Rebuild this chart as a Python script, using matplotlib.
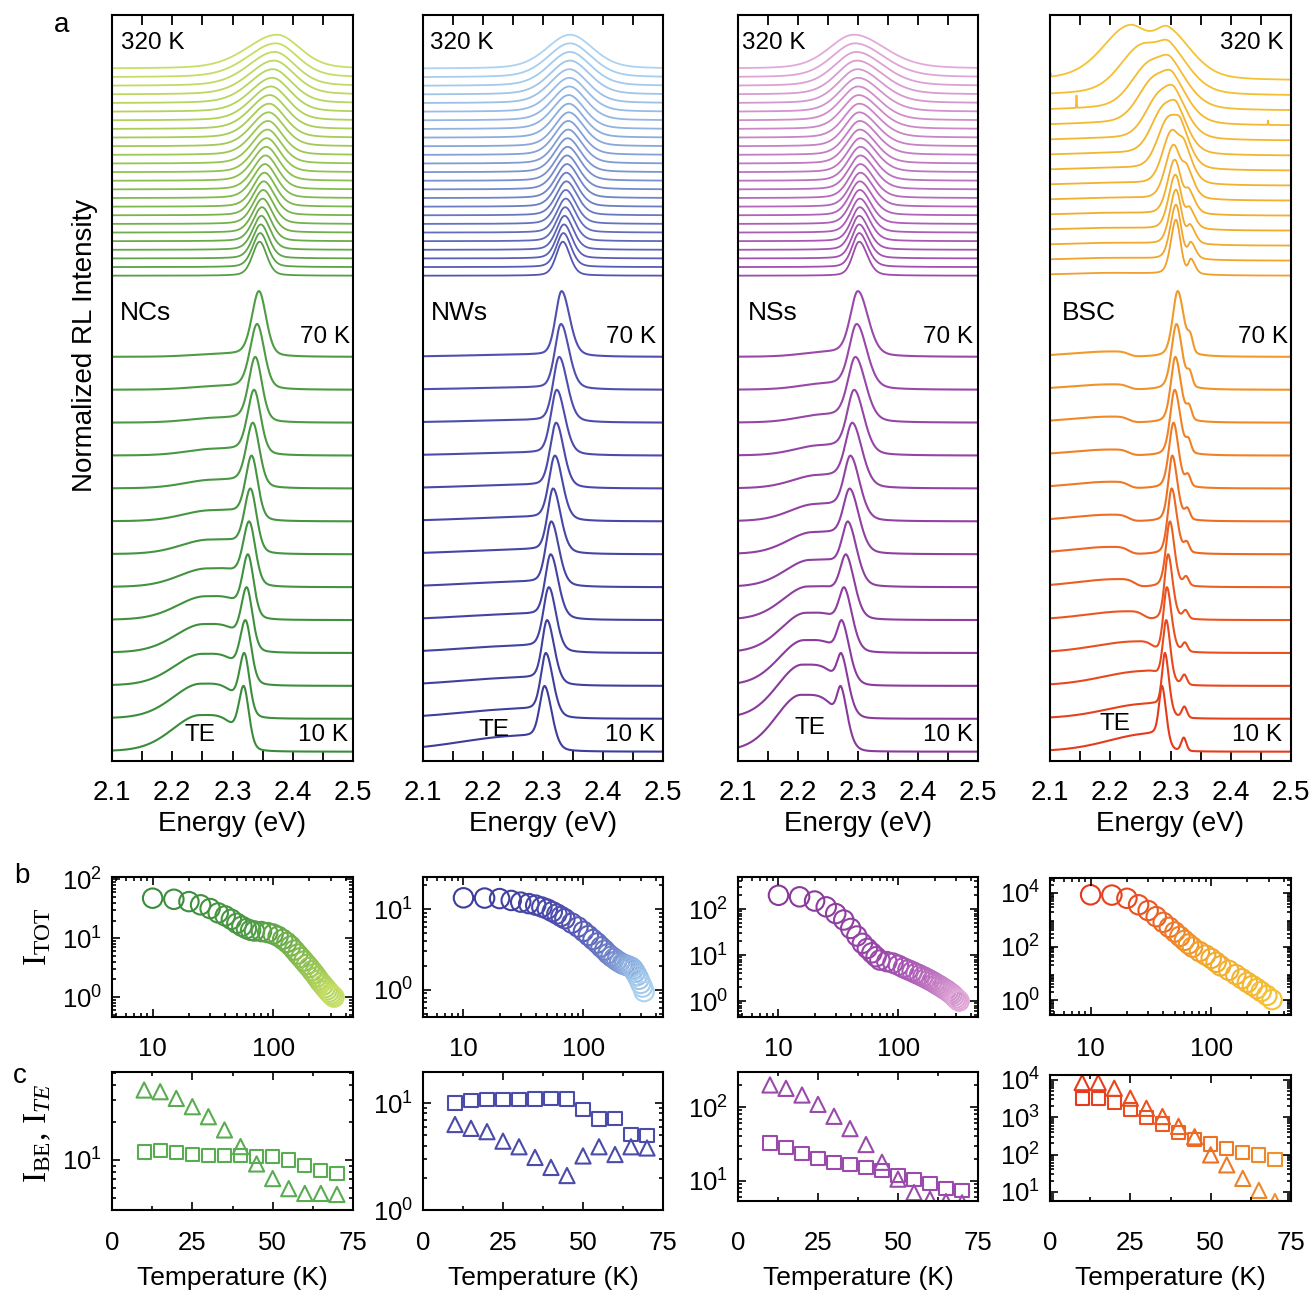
import numpy as np
import matplotlib.pyplot as plt
from matplotlib.colors import LinearSegmentedColormap
from matplotlib.ticker import MultipleLocator, LogLocator, FixedLocator, FuncFormatter, NullFormatter

plt.rcParams['font.family'] = ['Liberation Sans', 'DejaVu Sans']
plt.rcParams['mathtext.fontset'] = 'custom'
plt.rcParams['mathtext.rm'] = 'Liberation Serif'
plt.rcParams['mathtext.it'] = 'Liberation Serif:italic'
plt.rcParams['mathtext.sf'] = 'Liberation Sans'

# ---------------- temperatures ----------------
T_low = [10, 15, 20, 25, 30, 35, 40, 45, 50, 55, 60, 65, 70]
T_high = [80, 90, 100, 110, 120, 130, 140, 150, 160, 170, 180, 190, 200,
          210, 220, 230, 240, 250, 260, 270, 280, 290, 300, 310, 320]
T_high_bsc = [80, 90, 100, 110, 120, 140, 160, 180, 200, 220, 240, 260, 290, 320]

# ---------------- spectra parameters ----------------
# NCs
ncs_be_pos = [2.319, 2.320, 2.322, 2.324, 2.326, 2.328, 2.330, 2.332, 2.334, 2.336, 2.338, 2.341, 2.344]
ncs_be_w = [0.010, 0.010, 0.011, 0.011, 0.011, 0.012, 0.012, 0.012, 0.013, 0.013, 0.013, 0.014, 0.014]
ncs_te_amp = [0.63, 0.60, 0.54, 0.48, 0.39, 0.30, 0.23, 0.17, 0.13, 0.10, 0.07, 0.05, 0.04]
ncs_te_pos = [2.246, 2.247, 2.249, 2.251, 2.254, 2.257, 2.260, 2.263, 2.266, 2.270, 2.273, 2.276, 2.280]
ncs_pk_pos = [2.345, 2.346, 2.347, 2.348, 2.349, 2.350, 2.351, 2.352, 2.353, 2.354, 2.355, 2.356, 2.357,
              2.358, 2.359, 2.360, 2.361, 2.362, 2.364, 2.366, 2.367, 2.369, 2.370, 2.372, 2.374]
ncs_pk_wl = [0.014, 0.015, 0.016, 0.017, 0.018, 0.019, 0.020, 0.021, 0.022, 0.024, 0.025, 0.027, 0.028,
             0.030, 0.032, 0.034, 0.036, 0.038, 0.040, 0.043, 0.046, 0.049, 0.052, 0.056, 0.060]
ncs_pk_wr = [0.014, 0.015, 0.016, 0.017, 0.018, 0.019, 0.020, 0.021, 0.022, 0.023, 0.024, 0.025, 0.026,
             0.027, 0.028, 0.030, 0.031, 0.033, 0.034, 0.036, 0.038, 0.040, 0.041, 0.043, 0.045]
# NWs
nws_be_pos = [2.303, 2.305, 2.307, 2.310, 2.313, 2.314, 2.317, 2.320, 2.322, 2.323, 2.327, 2.330, 2.331]
nws_be_wl = [0.010, 0.010, 0.010, 0.011, 0.011, 0.011, 0.011, 0.012, 0.012, 0.012, 0.012, 0.012, 0.012]
nws_be_wr = [0.014, 0.014, 0.014, 0.014, 0.015, 0.015, 0.015, 0.015, 0.015, 0.016, 0.016, 0.016, 0.016]
nws_te_amp = [0.28, 0.16, 0.13, 0.11, 0.09, 0.08, 0.07, 0.06, 0.05, 0.04, 0.035, 0.03, 0.03]
nws_te_pos = [2.26, 2.26, 2.26, 2.26, 2.26, 2.26, 2.26, 2.26, 2.26, 2.26, 2.26, 2.26, 2.26]
nws_pk_pos = [2.333, 2.334, 2.335, 2.336, 2.337, 2.338, 2.338, 2.339, 2.339, 2.340, 2.340, 2.341, 2.341,
              2.342, 2.342, 2.343, 2.343, 2.343, 2.344, 2.344, 2.344, 2.345, 2.345, 2.345, 2.345]
nws_pk_wl = [0.013, 0.014, 0.015, 0.016, 0.017, 0.018, 0.019, 0.020, 0.021, 0.022, 0.023, 0.024, 0.025,
             0.026, 0.027, 0.028, 0.030, 0.032, 0.034, 0.036, 0.038, 0.040, 0.042, 0.044, 0.046]
nws_pk_wr = [0.014, 0.015, 0.016, 0.017, 0.018, 0.019, 0.020, 0.021, 0.022, 0.023, 0.024, 0.025, 0.026,
             0.027, 0.028, 0.029, 0.030, 0.031, 0.033, 0.035, 0.037, 0.039, 0.041, 0.043, 0.045]
# NSs
nss_be_pos = [2.272, 2.273, 2.274, 2.278, 2.281, 2.284, 2.287, 2.288, 2.291, 2.294, 2.296, 2.298, 2.300]
nss_be_wl = [0.008, 0.009, 0.010, 0.011, 0.012, 0.012, 0.013, 0.013, 0.014, 0.014, 0.015, 0.015, 0.015]
nss_be_wr = [0.012, 0.013, 0.014, 0.015, 0.016, 0.017, 0.018, 0.018, 0.019, 0.019, 0.020, 0.020, 0.020]
nss_te_amp = [1.45, 1.38, 1.10, 0.88, 0.68, 0.52, 0.40, 0.30, 0.22, 0.16, 0.12, 0.09, 0.07]
nss_te_pos = [2.205, 2.207, 2.210, 2.213, 2.216, 2.220, 2.224, 2.228, 2.232, 2.236, 2.240, 2.244, 2.248]
nss_pk_pos = [2.302, 2.302, 2.302, 2.302, 2.303, 2.303, 2.303, 2.303, 2.304, 2.304, 2.304, 2.304, 2.304,
              2.303, 2.303, 2.302, 2.302, 2.301, 2.300, 2.300, 2.299, 2.298, 2.297, 2.295, 2.293]
nss_pk_wl = [0.013, 0.014, 0.015, 0.016, 0.017, 0.018, 0.019, 0.020, 0.021, 0.022, 0.023, 0.024, 0.025,
             0.026, 0.027, 0.028, 0.030, 0.032, 0.034, 0.036, 0.038, 0.040, 0.043, 0.046, 0.049]
nss_pk_wr = [0.016, 0.017, 0.018, 0.019, 0.020, 0.021, 0.022, 0.024, 0.025, 0.026, 0.028, 0.029, 0.031,
             0.032, 0.034, 0.036, 0.038, 0.040, 0.042, 0.045, 0.048, 0.051, 0.054, 0.058, 0.062]
# BSC
bsc_be_pos = [2.286, 2.291, 2.293, 2.294, 2.296, 2.299, 2.302, 2.303, 2.305, 2.307, 2.308, 2.310, 2.312]
bsc_be_wl = [0.006, 0.006, 0.007, 0.007, 0.007, 0.008, 0.008, 0.008, 0.009, 0.009, 0.009, 0.010, 0.010]
bsc_be_wr = [0.008, 0.008, 0.008, 0.009, 0.009, 0.009, 0.010, 0.010, 0.010, 0.011, 0.011, 0.011, 0.012]
bsc_p2_pos = [2.322, 2.323, 2.323, 2.324, 2.325, 2.326, 2.327, 2.328, 2.329, 2.330, 2.331, 2.332, 2.333]
bsc_p2_amp = [0.25, 0.18, 0.15, 0.13, 0.12, 0.13, 0.14, 0.15, 0.16, 0.17, 0.18, 0.19, 0.20]
bsc_te_amp = [0.33, 0.24, 0.22, 0.17, 0.13, 0.12, 0.11, 0.10, 0.10, 0.09, 0.09, 0.08, 0.08]
bsc_te_pos = [2.262, 2.258, 2.252, 2.240, 2.225, 2.210, 2.200, 2.200, 2.200, 2.200, 2.200, 2.200, 2.200]
bsc_p1_pos = [2.309, 2.309, 2.309, 2.308, 2.307, 2.305, 2.302, 2.296, 2.288, 2.281, 2.272, 2.264, 2.252, 2.232]
bsc_p1_wl = [0.010, 0.011, 0.012, 0.013, 0.014, 0.016, 0.018, 0.021, 0.024, 0.027, 0.031, 0.035, 0.042, 0.052]
bsc_p1_wr = [0.009, 0.010, 0.011, 0.012, 0.013, 0.015, 0.017, 0.020, 0.024, 0.028, 0.031, 0.034, 0.037, 0.040]
bsc_hi_p2_pos = [2.334, 2.334, 2.333, 2.332, 2.331, 2.328, 2.324, 2.318, 2.312, 2.308, 2.305, 2.302, 2.300, 2.298]
bsc_hi_p2_amp = [0.26, 0.28, 0.30, 0.32, 0.35, 0.42, 0.50, 0.58, 0.65, 0.70, 0.74, 0.78, 0.80, 0.84]
bsc_hi_p2_w = [0.008, 0.009, 0.010, 0.011, 0.012, 0.014, 0.017, 0.020, 0.024, 0.028, 0.032, 0.036, 0.040, 0.046]
bsc_spike_curve = [13, 11, 10]
bsc_spike_E = [2.101, 2.144, 2.462]
bsc_spike_h = [0.06, 0.22, 0.08]

# ---------------- panel b: total intensity ----------------
T_all = T_low + T_high
T_all_bsc = T_low + T_high_bsc
ncs_itot = [48, 46, 42, 37, 32, 27, 24, 21, 18, 16, 14.6, 13.7, 13.3,
            13.0, 12.5, 11.8, 10.8, 9.6, 8.5, 7.4, 6.3, 5.4, 4.7, 4.1, 3.6, 3.2,
            2.8, 2.5, 2.2, 1.95, 1.75, 1.6, 1.45, 1.33, 1.22, 1.13, 1.06, 1.0]
nws_itot = [13.8, 13.7, 13.5, 12.8, 12.2, 11.7, 11.2, 10.6, 10.0, 9.3, 8.7, 8.1, 7.6,
            6.7, 6.0, 5.3, 4.7, 4.2, 3.8, 3.4, 3.1, 2.8, 2.6, 2.45, 2.3, 2.2,
            2.1, 2.05, 2.0, 1.95, 1.9, 1.8, 1.65, 1.5, 1.35, 1.2, 1.08, 0.95]
nss_itot = [200, 185, 150, 112, 80, 58, 38, 26, 18, 14, 11.2, 9.2, 7.8,
            7.2, 6.7, 6.0, 5.3, 4.8, 4.4, 4.0, 3.7, 3.4, 3.15, 2.9, 2.7, 2.5,
            2.3, 2.15, 2.0, 1.85, 1.75, 1.62, 1.5, 1.4, 1.28, 1.16, 1.07, 1.0]
bsc_itot = [8500, 8300, 6300, 3600, 2200, 1300, 800, 520, 350, 240, 170, 125, 95,
            65, 48, 36, 26, 19, 13, 9, 6.3, 4.6, 3.5, 2.7, 2.1, 1.5, 1.05]

# ---------------- panel c: BE and TE intensity ----------------
ncs_ibe = [11.6, 11.9, 11.4, 11.1, 10.9, 10.9, 10.8, 10.6, 10.6, 10.0, 9.1, 8.3, 7.8]
ncs_ite = [36.3, 35.2, 31.1, 26.7, 22.2, 17.4, 12.8, 9.3, 7.1, 5.9, 5.4, 5.4, 5.3]
nws_ibe = [10.0, 10.6, 10.7, 10.7, 10.7, 10.9, 11.0, 10.9, 8.7, 7.1, 7.2, 5.1, 5.0]
nws_ite = [6.3, 5.8, 5.4, 4.4, 3.9, 3.1, 2.5, 2.1, 3.2, 3.9, 3.3, 3.9, 3.8]
nss_ibe = [32.5, 28.6, 23.6, 20.2, 17.8, 16.5, 15.2, 13.7, 11.7, 10.5, 9.2, 7.9, 7.3]
nss_ite = [200, 180, 146, 109, 75, 51, 31, 17.8, 10.5, 6.9, 5.6, 5.2, 5.0]
bsc_ibe = [3250, 3250, 2450, 1630, 1000, 660, 390, 250, 192, 147, 113, 98, 75]
bsc_ite = [8500, 8500, 6000, 3250, 1740, 1050, 570, 300, 98, 53, 23, 11, 5.5]

# ---------------- colours ----------------
ncs_cmap = LinearSegmentedColormap.from_list('ncs', [(0, '#3a8c3c'), (0.19, '#4f9c45'), (0.45, '#79b44c'), (0.77, '#a9cf58'), (1, '#c8df66')])
nws_cmap = LinearSegmentedColormap.from_list('nws', [(0, '#3d3d9c'), (0.19, '#5050b0'), (0.45, '#6878c0'), (0.77, '#8fb2e0'), (1, '#acd3f0')])
nss_cmap = LinearSegmentedColormap.from_list('nss', [(0, '#88399a'), (0.19, '#9a48aa'), (0.45, '#b062b8'), (0.77, '#cb88c8'), (1, '#e2aad8')])
bsc_cmap = LinearSegmentedColormap.from_list('bsc', [(0, '#e53a1c'), (0.06, '#ea5520'), (0.13, '#ee7a26'), (0.19, '#f19a2a'), (0.3, '#f2ab2c'), (1, '#f5c233')])


def tn(T):
    return (T - 10) / 310.0


E = np.linspace(2.1, 2.5, 801)
LN2 = np.log(2)


def band(e0, wl, wr, eta=0.3):
    w = np.where(E < e0, wl, wr)
    x = (E - e0) / w
    return (1 - eta) * np.exp(-LN2 * x**2) + eta / (1 + x**2)


def te_band(e0, wl, wr):
    d = E - e0
    left = 0.8 * np.exp(-LN2 * (d / wl)**2) + 0.2 / (1 + (d / wl)**2)
    right = np.exp(-LN2 * (d / wr)**4)
    return np.where(E < e0, left, right)


def norm(s):
    return s / s.max()


ncs_low = [norm(band(p, w, w) + a * te_band(tp, 0.055, 0.06))
           for p, w, a, tp in zip(ncs_be_pos, ncs_be_w, ncs_te_amp, ncs_te_pos)]
ncs_high = [norm(band(p, wl, wr)) for p, wl, wr in zip(ncs_pk_pos, ncs_pk_wl, ncs_pk_wr)]
nws_low = [norm(band(p, wl, wr) + a * te_band(tp, 0.12, 0.05))
           for p, wl, wr, a, tp in zip(nws_be_pos, nws_be_wl, nws_be_wr, nws_te_amp, nws_te_pos)]
nws_high = [norm(band(p, wl, wr)) for p, wl, wr in zip(nws_pk_pos, nws_pk_wl, nws_pk_wr)]
nss_low = [norm(band(p, wl, wr) + a * te_band(tp, 0.05, 0.065))
           for p, wl, wr, a, tp in zip(nss_be_pos, nss_be_wl, nss_be_wr, nss_te_amp, nss_te_pos)]
nss_high = [norm(band(p, wl, wr)) for p, wl, wr in zip(nss_pk_pos, nss_pk_wl, nss_pk_wr)]
bsc_low = [norm(band(p, wl, wr, 0.4) + a2 * band(p2, 0.005, 0.005, 0.1) + a * te_band(tp, 0.08, 0.03))
           for p, wl, wr, p2, a2, a, tp in zip(bsc_be_pos, bsc_be_wl, bsc_be_wr, bsc_p2_pos,
                                                bsc_p2_amp, bsc_te_amp, bsc_te_pos)]
bsc_high = [norm(band(p, wl, wr) + a2 * band(p2, 0.6 * w2, w2) + 0.05 * band(2.2, 0.1, 0.1))
            for p, wl, wr, p2, a2, w2 in zip(bsc_p1_pos, bsc_p1_wl, bsc_p1_wr, bsc_hi_p2_pos,
                                              bsc_hi_p2_amp, bsc_hi_p2_w)]
for i, e, h in zip(bsc_spike_curve, bsc_spike_E, bsc_spike_h):
    bsc_high[i] = bsc_high[i] + h * np.exp(-((E - e) / 0.0007)**2)

# ---------------- figure ----------------
W, H = 1314, 1292
fig = plt.figure(figsize=(W / 100, H / 100), dpi=100)
PT = 0.72  # points per pixel at dpi 100


def ax_px(l, t, r, b):
    return fig.add_axes([l / W, 1 - b / H, (r - l) / W, (b - t) / H])


def ftext(x, y, s, **kw):
    fig.text(x / W, 1 - y / H, s, **kw)


cols = [(112, 353), (423, 663), (738, 978), (1050, 1291)]
samples = [
    dict(low=ncs_low, high=ncs_high, Th=T_high, cmap=ncs_cmap, step=8.625, hh=34.0),
    dict(low=nws_low, high=nws_high, Th=T_high, cmap=nws_cmap, step=8.625, hh=34.0),
    dict(low=nss_low, high=nss_high, Th=T_high, cmap=nss_cmap, step=8.625, hh=34.0),
    dict(low=bsc_low, high=bsc_high, Th=T_high_bsc, cmap=bsc_cmap, step=15.0, hh=56.0),
]

A_TOP, A_BOT = 15, 760.7
for (l, r), smp in zip(cols, samples):
    ax = ax_px(l, A_TOP, r, A_BOT)
    for k, (s, T) in enumerate(zip(smp['low'], T_low)):
        ax.plot(E, 9 + 32.9 * k + 65.8 * s, color=smp['cmap'](tn(T)), lw=1.5)
    for j, (s, T) in enumerate(zip(smp['high'], smp['Th'])):
        ax.plot(E, 485 + smp['step'] * j + smp['hh'] * s, color=smp['cmap'](tn(T)), lw=1.3)
    ax.set_xlim(2.1, 2.5)
    ax.set_ylim(0, A_BOT - A_TOP)
    ax.set_yticks([])
    ax.xaxis.set_major_locator(MultipleLocator(0.1))
    ax.xaxis.set_minor_locator(MultipleLocator(0.05))
    ax.xaxis.set_major_formatter(FuncFormatter(lambda v, p: '%.1f' % v))
    ax.tick_params(axis='x', which='both', direction='in', top=True, length=7.5, width=1.3,
                   labelsize=20, pad=14)
    for sp in ax.spines.values():
        sp.set_linewidth(1.5)
    ax.set_xlabel('Energy (eV)', fontsize=20)
    ax.xaxis.set_label_coords(0.5, -(811 - A_BOT) / (A_BOT - A_TOP))

# panel a labels
lab_fs = 17.5
ftext(121, 43, '320 K', fontsize=lab_fs, va='center', ha='left')
ftext(430, 43, '320 K', fontsize=lab_fs, va='center', ha='left')
ftext(742, 43, '320 K', fontsize=lab_fs, va='center', ha='left')
ftext(1284, 43, '320 K', fontsize=lab_fs, va='center', ha='right')
for x, name in zip([120, 431, 748, 1062], ['NCs', 'NWs', 'NSs', 'BSC']):
    ftext(x, 313, name, fontsize=19, va='center', ha='left')
for x in [350, 656, 973, 1288]:
    ftext(x, 337, '70 K', fontsize=lab_fs, va='center', ha='right')
for x in [348, 655, 973, 1282]:
    ftext(x, 735, '10 K', fontsize=lab_fs, va='center', ha='right')
for x, y in zip([200, 494, 810, 1115], [735, 730, 728, 724]):
    ftext(x, y, 'TE', fontsize=lab_fs, va='center', ha='center')

ftext(85, 345, 'Normalized RL Intensity', fontsize=20, rotation=90, va='center', ha='center')
ftext(62, 25, 'a', fontsize=20, va='center', ha='center')
ftext(22, 876, 'b', fontsize=20, va='center', ha='center')
ftext(20, 1076, 'c', fontsize=20, va='center', ha='center')
ftext(38, 937, r'$\mathrm{I}_{\mathrm{TOT}}$', fontsize=24, rotation=90, va='center', ha='center')
ftext(38, 1133, r'$\mathrm{I}_{\mathrm{BE}},\,\mathrm{I}_{TE}$', fontsize=24, rotation=90, va='center', ha='center')

# ---------------- b and c panels ----------------
exp_fmt = FuncFormatter(lambda v, p: r'$\mathsf{10^{%d}}$' % int(round(np.log10(v))))


def style_small(ax, ymaj, xpad_px):
    ax.set_yscale('log')
    ax.yaxis.set_major_locator(FixedLocator(ymaj))
    ax.yaxis.set_major_formatter(exp_fmt)
    ax.yaxis.set_minor_locator(LogLocator(base=10, subs=np.arange(2, 10), numticks=20))
    ax.yaxis.set_minor_formatter(NullFormatter())
    ax.tick_params(which='both', direction='in', top=True, right=True, labelsize=18.5, width=1.2)
    ax.tick_params(which='major', length=6)
    ax.tick_params(which='minor', length=3)
    ax.tick_params(axis='y', pad=7)
    ax.tick_params(axis='x', pad=xpad_px * PT)
    for sp in ax.spines.values():
        sp.set_linewidth(1.5)


b_rows = [(877, 1017), (877, 1017), (877, 1017), (878, 1015)]
b_ylim = [(0.46, 110), (0.46, 25), (0.45, 500), (0.28, 36000)]
b_ymaj = [[1, 10, 100], [1, 10], [1, 10, 100], [1, 100, 10000]]
b_data = [(T_all, ncs_itot, ncs_cmap), (T_all, nws_itot, nws_cmap),
          (T_all, nss_itot, nss_cmap), (T_all_bsc, bsc_itot, bsc_cmap)]
for (l, r), (t, b), yl, ym, (Ts, I, cm) in zip(cols, b_rows, b_ylim, b_ymaj, b_data):
    ax = ax_px(l, t, r, b)
    ax.set_xscale('log')
    ax.scatter(Ts, I, s=196, facecolors='none', edgecolors=[cm(tn(T)) for T in Ts], linewidths=1.5)
    ax.set_xlim(4.6, 460)
    ax.set_ylim(*yl)
    style_small(ax, ym, 1047 - 10 - b)
    ax.xaxis.set_major_locator(FixedLocator([10, 100]))
    ax.xaxis.set_major_formatter(FuncFormatter(lambda v, p: '%d' % v))
    ax.xaxis.set_minor_locator(LogLocator(base=10, subs=np.arange(2, 10), numticks=20))
    ax.xaxis.set_minor_formatter(NullFormatter())

c_rows = [(1072, 1210), (1072, 1210), (1072, 1201), (1075, 1201)]
c_ylim = [(3.98, 50.6), (1.0, 19.5), (5.3, 300), (5.7, 13600)]
c_ymaj = [[10], [1, 10], [10, 100], [10, 100, 1000, 10000]]
c_data = [(ncs_ibe, ncs_ite, None, '#5aac52'), (nws_ibe, nws_ite, None, '#4b4baa'),
          (nss_ibe, nss_ite, None, '#9a4aaa'), (bsc_ibe, bsc_ite, bsc_cmap, None)]
for (l, r), (t, b), yl, ym, (ibe, ite, cm, col) in zip(cols, c_rows, c_ylim, c_ymaj, c_data):
    ax = ax_px(l, t, r, b)
    if cm is not None:
        cols_be = [cm(tn(T) * 0.9) for T in T_low]
        cols_te = [cm(tn(T) * 0.9) for T in T_low]
    else:
        cols_be = col
        cols_te = col
    ax.scatter(T_low, ibe, s=90, marker='s', facecolors='none', edgecolors=cols_be, linewidths=1.5)
    ax.scatter(T_low, ite, s=120, marker='^', facecolors='none', edgecolors=cols_te, linewidths=1.5)
    ax.set_xlim(0, 75)
    ax.set_ylim(*yl)
    style_small(ax, ym, 1241 - 10 - b)
    ax.xaxis.set_major_locator(MultipleLocator(25))
    ax.xaxis.set_minor_locator(MultipleLocator(12.5))
    ax.xaxis.set_major_formatter(FuncFormatter(lambda v, p: '%d' % v))
    ax.set_xlabel('Temperature (K)', fontsize=19)
    ax.xaxis.set_label_coords(0.5, -(1266 - b) / (b - t))

fig.savefig('out.png', dpi=100)
